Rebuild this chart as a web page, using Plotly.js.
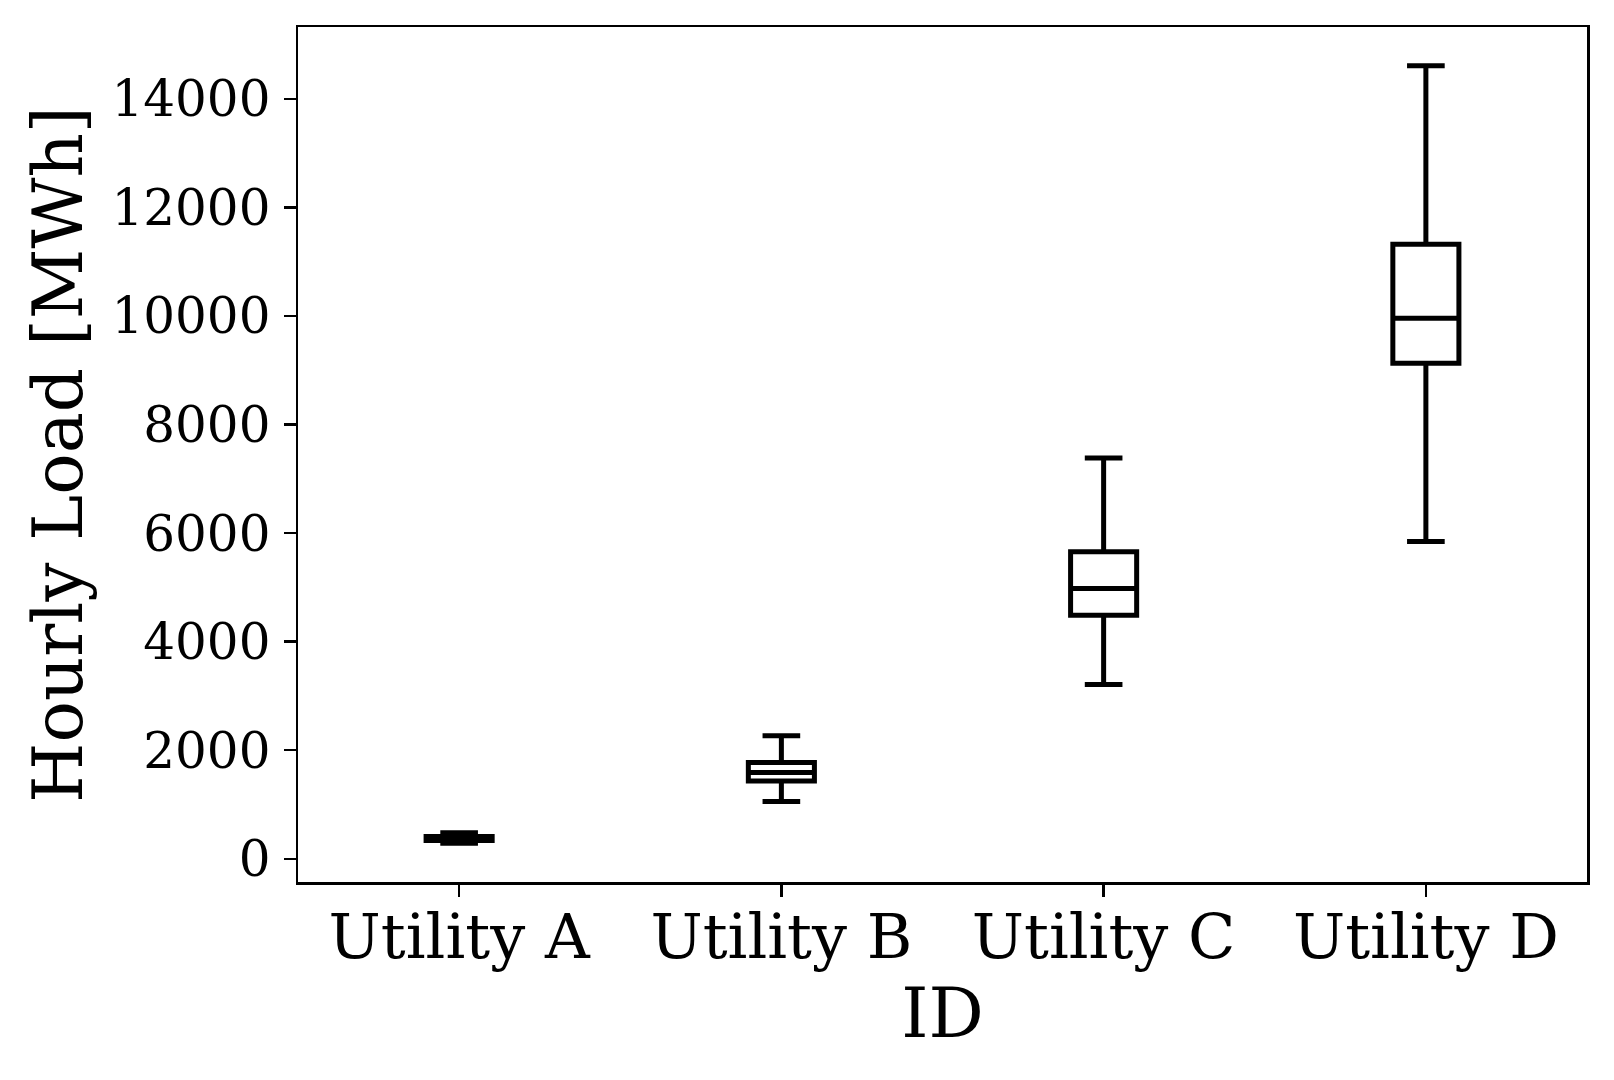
<!DOCTYPE html>
<html>
<head>
<meta charset="utf-8">
<script src="https://cdn.plot.ly/plotly-3.0.1.min.js"></script>
<style>html,body{margin:0;padding:0;background:#fff;}#chart{width:1614px;height:1080px;}</style>
</head>
<body>
<div id="chart"></div>
<script>
const categories = ["Utility A", "Utility B", "Utility C", "Utility D"];
const lowerWhisker = [286, 1054, 3211, 5845];
const q1Values = [335, 1434, 4488, 9128];
const medianValues = [372, 1589, 4981, 9958];
const q3Values = [409, 1773, 5655, 11322];
const upperWhisker = [481, 2264, 7382, 14608];
const yTickVals = [0, 2000, 4000, 6000, 8000, 10000, 12000, 14000];

const trace = {
  type: "box",
  x: categories,
  q1: q1Values,
  median: medianValues,
  q3: q3Values,
  lowerfence: lowerWhisker,
  upperfence: upperWhisker,
  width: 0.205,
  whiskerwidth: 0.57,
  line: {color: "#000000", width: 5},
  fillcolor: "rgba(255,255,255,0)",
  boxpoints: false,
  showlegend: false,
  hoverinfo: "skip"
};

const font = "DejaVu Serif, serif";
const layout = {
  width: 1614,
  height: 1080,
  margin: {l: 298, r: 27, t: 27, b: 198, pad: 0},
  paper_bgcolor: "#ffffff",
  plot_bgcolor: "#ffffff",
  font: {family: font, color: "#000000"},
  xaxis: {
    type: "category",
    range: [-0.5, 3.5],
    showgrid: false,
    zeroline: false,
    showline: true,
    mirror: true,
    linecolor: "#000000",
    linewidth: 2.5,
    ticks: "outside",
    ticklen: 12,
    tickwidth: 2.5,
    tickcolor: "#000000",
    ticklabelstandoff: -13,
    tickfont: {family: font, size: 62, color: "#000000"},
    title: {text: "ID", font: {family: font, size: 69, color: "#000000"}, standoff: 4}
  },
  yaxis: {
    range: [-428, 15323],
    tickvals: yTickVals,
    ticktext: yTickVals.map(String),
    showgrid: false,
    zeroline: false,
    showline: true,
    mirror: true,
    linecolor: "#000000",
    linewidth: 2.5,
    ticks: "outside",
    ticklen: 12,
    tickwidth: 2.5,
    tickcolor: "#000000",
    ticklabelstandoff: 3,
    tickfont: {family: font, size: 50, color: "#000000"},
    title: {text: "Hourly Load [MWh]", font: {family: font, size: 69, color: "#000000"}, standoff: 7}
  }
};

Plotly.newPlot("chart", [trace], layout, {staticPlot: true, displayModeBar: false});
</script>
</body>
</html>
